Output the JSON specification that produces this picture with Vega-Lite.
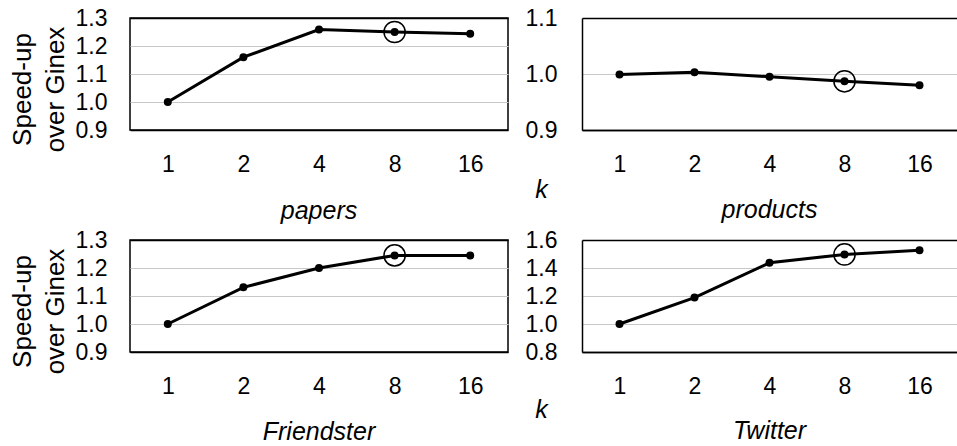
{
  "$schema": "https://vega.github.io/schema/vega-lite/v6.json",
  "padding": {"left": 8, "top": 6, "right": 0, "bottom": 2},
  "datasets": {
    "speed": [
      {"dataset": "papers", "k": 1, "speedup": 1.0},
      {"dataset": "papers", "k": 2, "speedup": 1.16},
      {"dataset": "papers", "k": 4, "speedup": 1.259},
      {"dataset": "papers", "k": 8, "speedup": 1.25},
      {"dataset": "papers", "k": 16, "speedup": 1.244},
      {"dataset": "products", "k": 1, "speedup": 0.999},
      {"dataset": "products", "k": 2, "speedup": 1.003},
      {"dataset": "products", "k": 4, "speedup": 0.995},
      {"dataset": "products", "k": 8, "speedup": 0.987},
      {"dataset": "products", "k": 16, "speedup": 0.98},
      {"dataset": "Friendster", "k": 1, "speedup": 1.0},
      {"dataset": "Friendster", "k": 2, "speedup": 1.131},
      {"dataset": "Friendster", "k": 4, "speedup": 1.2},
      {"dataset": "Friendster", "k": 8, "speedup": 1.245},
      {"dataset": "Friendster", "k": 16, "speedup": 1.245},
      {"dataset": "Twitter", "k": 1, "speedup": 1.0},
      {"dataset": "Twitter", "k": 2, "speedup": 1.189},
      {"dataset": "Twitter", "k": 4, "speedup": 1.437},
      {"dataset": "Twitter", "k": 8, "speedup": 1.497},
      {"dataset": "Twitter", "k": 16, "speedup": 1.527}
    ]
  },
  "data": {"name": "speed"},
  "columns": 2,
  "spacing": {"row": 110, "column": 74},
  "bounds": "flush",
  "concat": [
    {
      "width": 378, "height": 112,
      "title": {"text": "papers", "offset": -3},
      "transform": [{"filter": "datum.dataset === 'papers'"}],
      "encoding": {
        "x": {"field": "k", "type": "ordinal", "scale": {"type": "point", "padding": 0.5},
              "axis": {"labelAngle": 0, "labelPadding": 23, "grid": false, "title": "k", "titleFontStyle": "italic", "titleFontSize": 25, "titleX": 411, "titleY": 59, "titleBaseline": "middle", "titleAlign": "center", "titleAngle": 0}},
        "y": {"field": "speedup", "type": "quantitative", "scale": {"domain": [0.9, 1.3], "nice": false, "zero": false},
              "axis": {"values": [0.9, 1.0, 1.1, 1.2, 1.3], "format": ".1f", "labelPadding": 23,
                       "title": ["Speed-up", "over Ginex"], "titleFontSize": 26, "titleLineHeight": 33,
                       "titleX": -94.7, "titleY": 71, "titleAngle": 270, "titleBaseline": "bottom", "titleAlign": "center",
                       "gridColor": {"condition": {"test": "datum.value < 0.91 || datum.value > 1.29", "value": "black"}, "value": "#c8c8c8"},
                       "gridWidth": {"condition": {"test": "datum.value < 0.91 || datum.value > 1.29", "value": 1.5}, "value": 1}}}
      },
      "layer": [
        {"mark": {"type": "line", "color": "black", "strokeWidth": 3}},
        {"mark": {"type": "point", "filled": true, "color": "black", "size": 64, "opacity": 1}},
        {"transform": [{"filter": "datum.k === 8"}], "mark": {"type": "point", "filled": false, "color": "black", "size": 450, "strokeWidth": 1.5, "opacity": 1}}
      ]
    },
    {
      "width": 375, "height": 112,
      "view": {"stroke": null},
      "title": {"text": "products", "offset": 22},
      "transform": [{"filter": "datum.dataset === 'products'"}],
      "encoding": {
        "x": {"field": "k", "type": "ordinal", "scale": {"type": "point", "padding": 0.5},
              "axis": {"labelAngle": 0, "labelPadding": 23, "grid": false, "title": null, "domain": true, "domainColor": "black", "domainWidth": 1.5}},
        "y": {"field": "speedup", "type": "quantitative", "scale": {"domain": [0.9, 1.1], "nice": false, "zero": false},
              "axis": {"values": [0.9, 1.0, 1.1], "format": ".1f", "labelPadding": 25, "title": null, "domain": true, "domainColor": "black", "domainWidth": 1.5,
                       "gridColor": {"condition": {"test": "datum.value < 0.91 || datum.value > 1.09", "value": "black"}, "value": "#c8c8c8"},
                       "gridWidth": {"condition": {"test": "datum.value < 0.91 || datum.value > 1.09", "value": 1.5}, "value": 1}}}
      },
      "layer": [
        {"mark": {"type": "line", "color": "black", "strokeWidth": 3}},
        {"mark": {"type": "point", "filled": true, "color": "black", "size": 64, "opacity": 1}},
        {"transform": [{"filter": "datum.k === 8"}], "mark": {"type": "point", "filled": false, "color": "black", "size": 450, "strokeWidth": 1.5, "opacity": 1}}
      ]
    },
    {
      "width": 378, "height": 112,
      "title": {"text": "Friendster", "offset": -2.5},
      "transform": [{"filter": "datum.dataset === 'Friendster'"}],
      "encoding": {
        "x": {"field": "k", "type": "ordinal", "scale": {"type": "point", "padding": 0.5},
              "axis": {"labelAngle": 0, "labelPadding": 23, "grid": false, "title": "k", "titleFontStyle": "italic", "titleFontSize": 25, "titleX": 411, "titleY": 57, "titleBaseline": "middle", "titleAlign": "center", "titleAngle": 0}},
        "y": {"field": "speedup", "type": "quantitative", "scale": {"domain": [0.9, 1.3], "nice": false, "zero": false},
              "axis": {"values": [0.9, 1.0, 1.1, 1.2, 1.3], "format": ".1f", "labelPadding": 23,
                       "title": ["Speed-up", "over Ginex"], "titleFontSize": 26, "titleLineHeight": 33,
                       "titleX": -94.7, "titleY": 71, "titleAngle": 270, "titleBaseline": "bottom", "titleAlign": "center",
                       "gridColor": {"condition": {"test": "datum.value < 0.91 || datum.value > 1.29", "value": "black"}, "value": "#c8c8c8"},
                       "gridWidth": {"condition": {"test": "datum.value < 0.91 || datum.value > 1.29", "value": 1.5}, "value": 1}}}
      },
      "layer": [
        {"mark": {"type": "line", "color": "black", "strokeWidth": 3}},
        {"mark": {"type": "point", "filled": true, "color": "black", "size": 64, "opacity": 1}},
        {"transform": [{"filter": "datum.k === 8"}], "mark": {"type": "point", "filled": false, "color": "black", "size": 450, "strokeWidth": 1.5, "opacity": 1}}
      ]
    },
    {
      "width": 375, "height": 112,
      "view": {"stroke": null},
      "title": {"text": "Twitter", "offset": 21},
      "transform": [{"filter": "datum.dataset === 'Twitter'"}],
      "encoding": {
        "x": {"field": "k", "type": "ordinal", "scale": {"type": "point", "padding": 0.5},
              "axis": {"labelAngle": 0, "labelPadding": 23, "grid": false, "title": null, "domain": true, "domainColor": "black", "domainWidth": 1.5}},
        "y": {"field": "speedup", "type": "quantitative", "scale": {"domain": [0.8, 1.6], "nice": false, "zero": false},
              "axis": {"values": [0.8, 1.0, 1.2, 1.4, 1.6], "format": ".1f", "labelPadding": 25, "title": null, "domain": true, "domainColor": "black", "domainWidth": 1.5,
                       "gridColor": {"condition": {"test": "datum.value < 0.81 || datum.value > 1.59", "value": "black"}, "value": "#c8c8c8"},
                       "gridWidth": {"condition": {"test": "datum.value < 0.81 || datum.value > 1.59", "value": 1.5}, "value": 1}}}
      },
      "layer": [
        {"mark": {"type": "line", "color": "black", "strokeWidth": 3}},
        {"mark": {"type": "point", "filled": true, "color": "black", "size": 64, "opacity": 1}},
        {"transform": [{"filter": "datum.k === 8"}], "mark": {"type": "point", "filled": false, "color": "black", "size": 450, "strokeWidth": 1.5, "opacity": 1}}
      ]
    }
  ],
  "config": {
    "font": "Liberation Sans",
    "background": "white",
    "view": {"stroke": "black", "strokeWidth": 1.5},
    "axis": {"labelColor": "black", "titleColor": "black", "labelFontSize": 23, "titleFontSize": 23, "titleFontWeight": "normal", "ticks": false, "domain": false, "labelFont": "Liberation Sans", "titleFont": "Liberation Sans"},
    "title": {"orient": "bottom", "anchor": "middle", "fontSize": 25, "fontStyle": "italic", "fontWeight": "normal", "color": "black", "font": "Liberation Sans", "baseline": "top"}
  }
}
